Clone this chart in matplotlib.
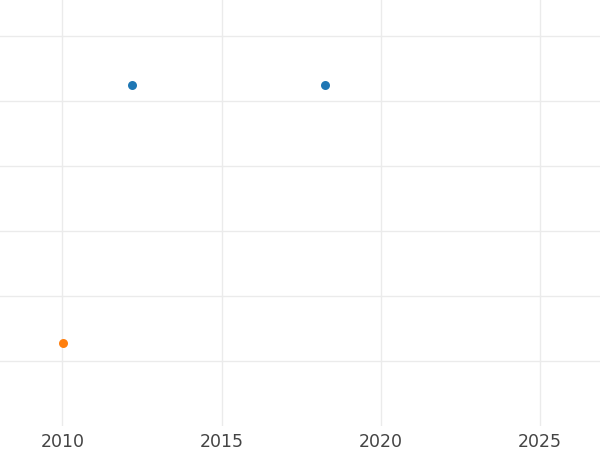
import matplotlib
matplotlib.use('Agg')
import matplotlib.pyplot as plt

# data
blue_x = [2012.18, 2018.26]
blue_y = [5.24, 5.24]
orange_x = [2010.03]
orange_y = [1.28]

x_ticks = [2010, 2015, 2020, 2025]
y_grid = [1, 2, 3, 4, 5, 6]

fig = plt.figure(figsize=(6, 4.5), dpi=100)
ax = fig.add_axes([0, 24 / 450, 1, 426 / 450])

ax.scatter(blue_x, blue_y, s=42, color='#1f77b4', zorder=3, linewidths=0)
ax.scatter(orange_x, orange_y, s=42, color='#ff7f0e', zorder=3, linewidths=0)

ax.set_xlim(2008.044, 2026.884)
ax.set_ylim(0, 6.554)
ax.set_xticks(x_ticks)
ax.set_xticklabels([str(t) for t in x_ticks])
ax.set_yticks(y_grid)
ax.set_yticklabels([])

ax.grid(True, color='#ebebeb', linewidth=1.0)
ax.set_axisbelow(True)
ax.tick_params(axis='both', length=0)
ax.tick_params(axis='x', labelsize=12.5, labelcolor='#444444', pad=5)
for s in ax.spines.values():
    s.set_visible(False)

fig.savefig('out.png', dpi=100)
